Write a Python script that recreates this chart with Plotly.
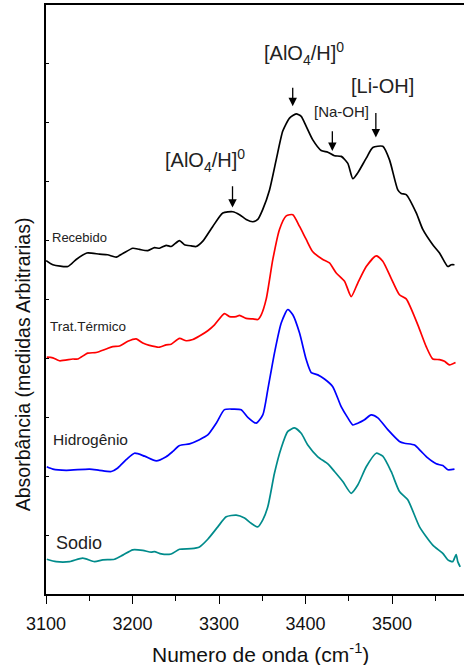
import plotly.graph_objects as go

# Wavenumber (cm-1) and stacked absorbance (arbitrary units) for each sample
wn_recebido = [3100.2, 3107.9, 3125.2, 3134.9, 3147.2, 3161.8, 3171.1, 3181.2, 3188.8, 3200.3,
               3208.1, 3217.7, 3225.4, 3231.2, 3238.9, 3244.7, 3254.3, 3260.1, 3267.8, 3273.6,
               3281.3, 3292.8, 3304.4, 3315.9, 3323.7, 3331.4, 3339.1, 3344.8, 3350.6, 3358.4,
               3366.1, 3373.7, 3381.5, 3389.2, 3395.0, 3400.8, 3408.4, 3418.1, 3425.8, 3433.5,
               3441.3, 3448.9, 3454.7, 3460.4, 3470.2, 3477.8, 3489.3, 3497.1, 3506.7, 3510.6,
               3516.4, 3528.0, 3535.6, 3547.1, 3554.9, 3564.5, 3568.4, 3572.2]
abs_recebido = [5.66, 5.59, 5.56, 5.68, 5.79, 5.77, 5.76, 5.72, 5.78, 5.87,
                5.85, 5.83, 5.88, 5.87, 5.92, 5.90, 6.00, 5.93, 5.91, 5.90,
                5.99, 6.24, 6.47, 6.49, 6.44, 6.36, 6.32, 6.36, 6.53, 6.86,
                7.37, 7.86, 8.08, 8.15, 8.11, 7.94, 7.71, 7.53, 7.50, 7.44,
                7.43, 7.31, 7.05, 7.15, 7.40, 7.58, 7.60, 7.37, 6.86, 6.80,
                6.78, 6.47, 6.19, 5.93, 5.79, 5.56, 5.59, 5.59]

wn_termico = [3100.9, 3107.9, 3115.6, 3131.0, 3136.8, 3148.3, 3158.0, 3169.6, 3177.2, 3185.0,
              3194.6, 3204.3, 3211.9, 3219.6, 3231.2, 3238.9, 3244.7, 3254.3, 3262.1, 3269.7,
              3277.4, 3287.0, 3294.8, 3306.3, 3312.1, 3319.9, 3323.7, 3331.4, 3339.1, 3344.8,
              3348.8, 3354.6, 3362.2, 3369.9, 3377.7, 3385.3, 3393.1, 3400.8, 3408.4, 3420.0,
              3427.7, 3435.5, 3445.1, 3452.8, 3460.4, 3470.2, 3481.7, 3489.3, 3499.0, 3508.6,
              3516.4, 3529.8, 3539.5, 3547.1, 3554.9, 3560.7, 3566.4, 3573.4]
abs_termico = [4.02, 4.01, 3.96, 3.99, 3.99, 4.09, 4.10, 4.16, 4.20, 4.21,
               4.29, 4.33, 4.26, 4.22, 4.19, 4.23, 4.24, 4.34, 4.30, 4.32,
               4.38, 4.47, 4.57, 4.76, 4.71, 4.71, 4.73, 4.68, 4.67, 4.66,
               4.74, 5.01, 5.68, 6.19, 6.42, 6.44, 6.24, 6.02, 5.81, 5.68,
               5.62, 5.45, 5.31, 5.05, 5.28, 5.56, 5.74, 5.65, 5.36, 5.08,
               5.01, 4.57, 4.20, 3.99, 3.98, 3.95, 3.89, 3.93]

wn_hidrogenio = [3100.9, 3107.9, 3123.4, 3150.3, 3161.8, 3175.4, 3183.0, 3192.7, 3202.3, 3213.9,
                 3227.4, 3238.9, 3246.6, 3254.3, 3265.9, 3277.4, 3287.0, 3296.8, 3306.3, 3315.9,
                 3325.6, 3333.3, 3343.0, 3350.6, 3356.4, 3364.1, 3371.9, 3379.5, 3385.3, 3393.1,
                 3400.8, 3406.6, 3414.2, 3421.9, 3431.5, 3441.2, 3448.9, 3454.7, 3460.4, 3468.2,
                 3475.9, 3483.6, 3495.1, 3508.6, 3514.4, 3526.0, 3533.7, 3541.3, 3551.1, 3558.7,
                 3564.5, 3572.2]
abs_hidrogenio = [2.16, 2.12, 2.10, 2.12, 2.10, 2.08, 2.14, 2.28, 2.39, 2.34,
                  2.26, 2.33, 2.42, 2.52, 2.55, 2.62, 2.70, 2.90, 3.13, 3.14,
                  3.13, 3.00, 2.90, 3.04, 3.47, 4.09, 4.60, 4.83, 4.74, 4.43,
                  3.98, 3.76, 3.72, 3.65, 3.52, 3.18, 2.99, 2.87, 2.90, 2.96,
                  3.04, 2.99, 2.79, 2.59, 2.56, 2.53, 2.42, 2.31, 2.21, 2.18,
                  2.11, 2.12]

wn_sodio = [3100.9, 3111.8, 3127.2, 3142.5, 3156.1, 3165.7, 3179.2, 3188.8, 3200.3, 3211.9,
            3221.6, 3225.4, 3233.2, 3244.7, 3254.3, 3267.8, 3277.4, 3287.0, 3298.6, 3308.3,
            3319.9, 3329.5, 3337.2, 3344.8, 3350.6, 3356.4, 3364.1, 3371.9, 3379.5, 3387.3,
            3395.0, 3402.6, 3414.2, 3425.8, 3433.5, 3443.1, 3452.8, 3460.4, 3470.2, 3481.7,
            3489.3, 3499.0, 3508.6, 3518.2, 3531.8, 3547.1, 3558.7, 3564.5, 3570.2, 3574.1,
            3576.0, 3578.8]
abs_sodio = [0.59, 0.55, 0.55, 0.61, 0.55, 0.58, 0.59, 0.66, 0.75, 0.74,
             0.71, 0.72, 0.68, 0.68, 0.76, 0.77, 0.80, 0.93, 1.14, 1.31,
             1.34, 1.29, 1.20, 1.14, 1.26, 1.48, 2.05, 2.48, 2.76, 2.82,
             2.73, 2.53, 2.33, 2.21, 2.08, 1.91, 1.71, 1.85, 2.16, 2.39,
             2.34, 2.08, 1.74, 1.60, 1.14, 0.83, 0.69, 0.58, 0.55, 0.67,
             0.55, 0.46]

series = [
    ("Recebido", wn_recebido, abs_recebido, "#000000"),
    ("Trat.Térmico", wn_termico, abs_termico, "#ff0000"),
    ("Hidrogênio", wn_hidrogenio, abs_hidrogenio, "#0000ff"),
    ("Sodio", wn_sodio, abs_sodio, "#008b8b"),
]

# Sample labels written at the left of each spectrum
label_text = ["Recebido", "Trat.Térmico", "Hidrogênio", "Sodio"]
label_x = [3104.9, 3102.1, 3106.0, 3108.7]
label_y = [6.05, 4.54, 2.63, 0.87]
label_size = [13, 13.5, 15.5, 18]

# Band assignments with arrows (tail above, tip at the band)
band_text = ["[AlO<sub>4</sub>/H]<sup>0</sup>", "[AlO<sub>4</sub>/H]<sup>0</sup>", "[Na-OH]", "[Li-OH]"]
band_text_x = [3283.6, 3398.2, 3441.6, 3489.4]
band_text_y = [7.36, 9.18, 8.19, 8.63]
band_size = [20, 20, 15, 20]
arrow_x = [3315.6, 3385.2, 3431.0, 3481.3]
arrow_tail = [6.95, 8.62, 7.88, 8.19]
arrow_tip = [6.56, 8.28, 7.52, 7.75]

FONT = "Arial, Liberation Sans, sans-serif"

fig = go.Figure()
for name, x, y, color in series:
    fig.add_trace(go.Scatter(
        x=x, y=y, mode="lines", name=name,
        line=dict(color=color, width=1.7, shape="spline", smoothing=0.6),
        showlegend=False,
    ))

annotations = []
for t, x, y, s in zip(label_text, label_x, label_y, label_size):
    annotations.append(dict(x=x, y=y, xref="x", yref="y", text=t, showarrow=False,
                            xanchor="left", yanchor="middle",
                            font=dict(family=FONT, size=s, color="#222222")))
for t, x, y, s in zip(band_text, band_text_x, band_text_y, band_size):
    annotations.append(dict(x=x, y=y, xref="x", yref="y", text=t, showarrow=False,
                            xanchor="center", yanchor="middle",
                            font=dict(family=FONT, size=s, color="#222222")))
for x, y0, y1 in zip(arrow_x, arrow_tail, arrow_tip):
    annotations.append(dict(x=x, y=y1, ax=x, ay=y0, xref="x", yref="y",
                            axref="x", ayref="y", text="", showarrow=True,
                            arrowhead=2, arrowsize=1.3, arrowwidth=1.3,
                            arrowcolor="#000000"))

# Axis titles
annotations.append(dict(x=0.512, y=-0.1, xref="paper", yref="paper",
                        text="Numero de onda (cm<sup>-1</sup>)", showarrow=False,
                        xanchor="center", yanchor="middle",
                        font=dict(family=FONT, size=21, color="#111111")))
annotations.append(dict(x=-0.055, y=0.39, xref="paper", yref="paper",
                        text="Absorbância (medidas Arbitrarias)", showarrow=False,
                        textangle=-90, xanchor="center", yanchor="middle",
                        font=dict(family=FONT, size=19.5, color="#111111")))

fig.update_layout(
    width=464, height=665,
    margin=dict(l=46, r=0, t=5, b=71),
    paper_bgcolor="white", plot_bgcolor="white",
    annotations=annotations,
    xaxis=dict(range=[3100, 3583.2], dtick=100, tick0=3100,
               showline=True, linecolor="black", linewidth=1.6, mirror=True,
               ticks="outside", ticklen=8, tickwidth=1.3, tickcolor="black",
               ticklabelstandoff=5,
               minor=dict(dtick=50, ticks="outside", ticklen=5, tickwidth=1.2, tickcolor="black"),
               showgrid=False, zeroline=False,
               tickfont=dict(family=FONT, size=18, color="#111111")),
    yaxis=dict(range=[0, 10], dtick=1, tick0=0,
               showline=True, linecolor="black", linewidth=1.6,
               ticks="inside", ticklen=3, tickwidth=1, tickcolor="black",
               showticklabels=False, showgrid=False, zeroline=False),
)

fig.write_html("out.html")
